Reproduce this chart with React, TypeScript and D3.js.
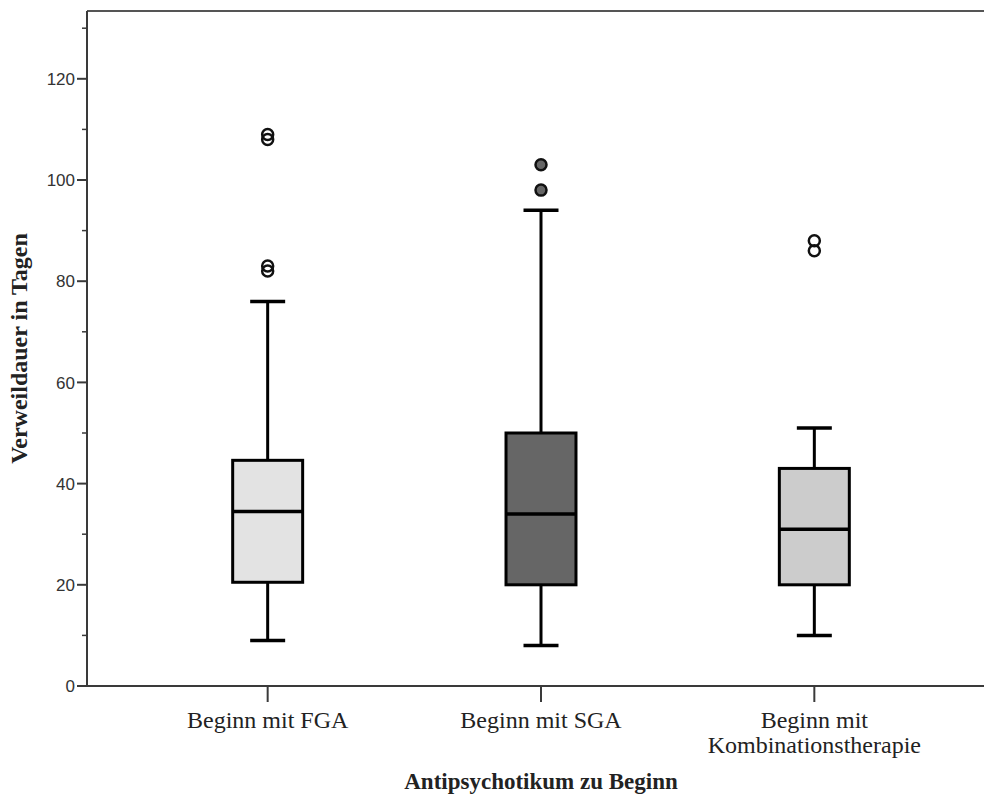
import React from "react";
import * as d3 from "d3";

const categories = ["Beginn mit FGA", "Beginn mit SGA", "Beginn mit Kombinationstherapie"];
const categoryLines = [["Beginn mit FGA"], ["Beginn mit SGA"], ["Beginn mit", "Kombinationstherapie"]];
const q1 = [20.5, 20, 20];
const medians = [34.5, 34, 31];
const q3 = [44.6, 50, 43];
const whiskerLow = [9, 8, 10];
const whiskerHigh = [76, 94, 51];
const outliers = [[109, 108, 83, 82], [103, 98], [88, 86]];
const boxFills = ["#e3e3e3", "#666666", "#cccccc"];
const majorTicks = [0, 20, 40, 60, 80, 100, 120];
const minorTicks = [10, 30, 50, 70, 90, 110, 130];
const yTitle = "Verweildauer in Tagen";
const xTitle = "Antipsychotikum zu Beginn";

const W = 984;
const H = 798;
const left = 87;
const top = 11;
const bottom = 686;

export default function App() {
  const y = d3.scaleLinear().domain([0, 133.4]).range([bottom, top]);
  const x = d3.scaleBand<string>().domain(categories).range([131, 951]);
  const bw = x.bandwidth();
  const boxW = bw * 0.256;
  const capW = bw * 0.128;
  const axisColor = "#3a3a3a";
  const serif = "'Liberation Serif', 'Times New Roman', serif";
  const sans = "'Liberation Sans', Arial, sans-serif";

  return (
    <svg width={W} height={H} style={{ position: "absolute", left: 0, top: 0, display: "block", background: "#fff" }}>
      {/* frame */}
      <line x1={left} x2={W} y1={top} y2={top} stroke="#555" strokeWidth={2} />
      <line x1={left} x2={left} y1={top} y2={bottom} stroke={axisColor} strokeWidth={2} />
      <line x1={left} x2={W} y1={bottom} y2={bottom} stroke={axisColor} strokeWidth={2} />

      {/* y ticks */}
      {majorTicks.map((t) => (
        <g key={"M" + t}>
          <line x1={left - 10} x2={left} y1={y(t)} y2={y(t)} stroke={axisColor} strokeWidth={2} />
          <text x={left - 12} y={y(t)} dy="0.36em" textAnchor="end" fontFamily={sans} fontSize={17} fill="#333">
            {t}
          </text>
        </g>
      ))}
      {minorTicks.map((t) => (
        <line key={"m" + t} x1={left - 5} x2={left} y1={y(t)} y2={y(t)} stroke={axisColor} strokeWidth={1.5} />
      ))}

      {/* x ticks and labels */}
      {categories.map((c, i) => {
        const cx = (x(c) as number) + bw / 2;
        return (
          <g key={"x" + c}>
            <line x1={cx} x2={cx} y1={bottom} y2={bottom + 16} stroke={axisColor} strokeWidth={2} />
            {categoryLines[i].map((ln, j) => (
              <text key={j} x={cx} y={728 + j * 25} textAnchor="middle" fontFamily={serif} fontSize={24} fill="#222">
                {ln}
              </text>
            ))}
          </g>
        );
      })}

      {/* boxes */}
      {categories.map((c, i) => {
        const cx = (x(c) as number) + bw / 2;
        return (
          <g key={"b" + c}>
            <line x1={cx} x2={cx} y1={y(whiskerHigh[i])} y2={y(q3[i])} stroke="#000" strokeWidth={3} />
            <line x1={cx} x2={cx} y1={y(q1[i])} y2={y(whiskerLow[i])} stroke="#000" strokeWidth={3} />
            <line x1={cx - capW / 2} x2={cx + capW / 2} y1={y(whiskerHigh[i])} y2={y(whiskerHigh[i])} stroke="#000" strokeWidth={3.5} />
            <line x1={cx - capW / 2} x2={cx + capW / 2} y1={y(whiskerLow[i])} y2={y(whiskerLow[i])} stroke="#000" strokeWidth={3.5} />
            <rect
              x={cx - boxW / 2}
              y={y(q3[i])}
              width={boxW}
              height={y(q1[i]) - y(q3[i])}
              fill={boxFills[i]}
              stroke="#000"
              strokeWidth={3}
            />
            <line x1={cx - boxW / 2} x2={cx + boxW / 2} y1={y(medians[i])} y2={y(medians[i])} stroke="#000" strokeWidth={3.5} />
            {outliers[i].map((o, k) => (
              <circle key={k} cx={cx} cy={y(o)} r={5.5} fill={i === 1 ? boxFills[i] : "none"} stroke="#111" strokeWidth={2.5} />
            ))}
          </g>
        );
      })}

      {/* axis titles */}
      <text
        transform={`translate(27, ${(top + bottom) / 2}) rotate(-90)`}
        textAnchor="middle"
        fontFamily={serif}
        fontSize={24}
        fontWeight="bold"
        fill="#222"
      >
        {yTitle}
      </text>
      <text x={541} y={789} textAnchor="middle" fontFamily={serif} fontSize={23} fontWeight="bold" fill="#222">
        {xTitle}
      </text>
    </svg>
  );
}
